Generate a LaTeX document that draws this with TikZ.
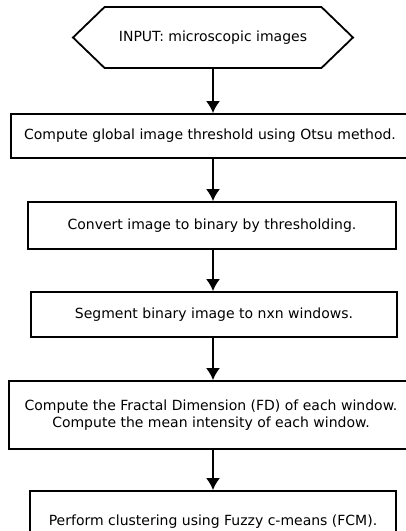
\documentclass[tikz,border=0pt]{standalone}
\usepackage{fontspec}
\setmainfont{DejaVu Sans}
\usetikzlibrary{shapes.symbols}
\tikzset{
    stepbox/.style={draw,line width=1.8pt,rectangle,inner sep=0pt,align=center},
    flow/.style={line width=1.8pt,-{Latex[length=12pt,width=14pt]}}
}
\usetikzlibrary{arrows.meta}
\begin{document}
\begin{tikzpicture}[x=1pt,y=-1pt,font=\fontsize{14}{17}\selectfont]
        \useasboundingbox (0,0) rectangle (406,531);
        \clip (0,0) rectangle (406,531);
        %% input
        \node[draw,line width=1.8pt,signal,signal to=west and east,signal pointer angle=88,
              minimum width=280pt,minimum height=61pt,inner sep=0pt] (input) at (213,37.5) {INPUT: microscopic images};
        %% steps
        \node[stepbox,minimum width=398pt,minimum height=44pt] (otsu) at (210,136) {Compute global image threshold using Otsu method.};
        \node[stepbox,minimum width=368pt,minimum height=47pt] (binary) at (212,225.5) {Convert image to binary by thresholding.};
        \node[stepbox,minimum width=366pt,minimum height=45pt] (segment) at (214,314.5) {Segment binary image to nxn windows.};
        \node[stepbox,minimum width=404pt,minimum height=68pt] (fd) at (211,415) {Compute the Fractal Dimension (FD) of each window.\\Compute the mean intensity of each window.};
        \node[stepbox,minimum width=366pt,minimum height=62pt] (fcm) at (213,522) {Perform clustering using Fuzzy c-means (FCM).};
        %% arrows
        \draw[flow] (input.south) -- (input.south |- otsu.north);
        \draw[flow] (input.south |- otsu.south) -- (input.south |- binary.north);
        \draw[flow] (input.south |- binary.south) -- (input.south |- segment.north);
        \draw[flow] (input.south |- segment.south) -- (input.south |- fd.north);
        \draw[flow] (input.south |- fd.south) -- (input.south |- fcm.north);
    \end{tikzpicture}
\end{document}
